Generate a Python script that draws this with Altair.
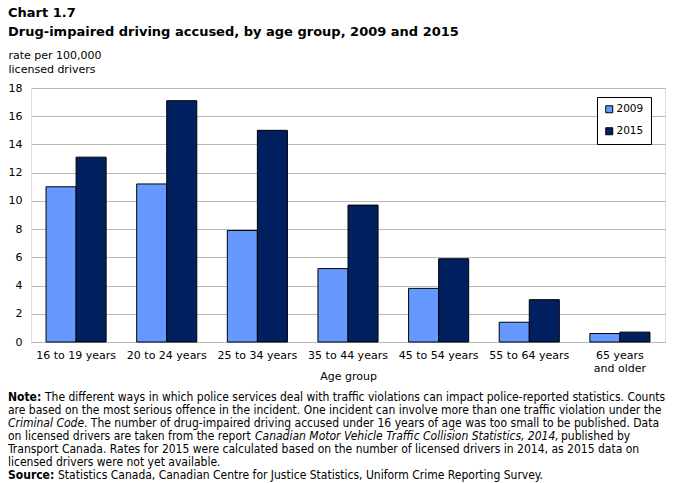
import altair as alt
import pandas as pd

age_groups = ["16 to 19 years", "20 to 24 years", "25 to 34 years", "35 to 44 years",
              "45 to 54 years", "55 to 64 years", "65 years and older"]
years = ["2009", "2015"]
rate_2009 = [11.0, 11.2, 7.9, 5.2, 3.8, 1.4, 0.6]
rate_2015 = [13.1, 17.1, 15.0, 9.7, 5.9, 3.0, 0.7]
colors = ["#6699FF", "#002060"]

rows = []
for i, g in enumerate(age_groups):
    rows.append({"age": g, "year": "2009", "rate": rate_2009[i]})
    rows.append({"age": g, "year": "2015", "rate": rate_2015[i]})
df = pd.DataFrame(rows)

FONT = "DejaVu Sans"
NOTE_FONT = "DejaVu Sans Condensed"

bars = alt.Chart(df).mark_bar(stroke="black", strokeWidth=1).encode(
    x=alt.X("age:N", sort=age_groups,
            scale=alt.Scale(paddingInner=0.337, paddingOuter=0.166),
            axis=alt.Axis(title="Age group", labelAngle=0, ticks=False,
                          labelFont=FONT, labelFontSize=11, labelColor="black",
                          labelPadding=7, domain=False,
                          labelExpr="datum.label == '65 years and older' ? ['65 years', 'and older'] : datum.label",
                          titleFont=FONT, titleFontSize=11, titleFontWeight="normal",
                          titleColor="black", titleY=34, titleBaseline="middle")),
    xOffset=alt.XOffset("year:N", sort=years),
    y=alt.Y("rate:Q", scale=alt.Scale(domain=[0, 18], nice=False),
            axis=alt.Axis(values=list(range(0, 19, 2)), ticks=False, domain=False,
                          labelFont=FONT, labelFontSize=11, labelColor="black",
                          labelPadding=9, gridColor="#b8b8b8", gridWidth=1,
                          title=["rate per 100,000", "licensed drivers"],
                          titleAngle=0, titleAlign="left", titleBaseline="middle",
                          titleX=-23, titleY=-33, titleFont=FONT, titleFontSize=11,
                          titleFontWeight="normal", titleColor="black",
                          titleLineHeight=14)),
    color=alt.Color("year:N", sort=years,
                    scale=alt.Scale(domain=years, range=colors),
                    legend=alt.Legend(title=None, orient="none", legendX=566, legendY=9,
                                      strokeColor="black", fillColor="white",
                                      padding=7, symbolType="square", symbolSize=49,
                                      symbolStrokeColor="black", symbolStrokeWidth=1,
                                      labelFont=FONT, labelFontSize=10.5, labelColor="black",
                                      labelOffset=2, rowPadding=10)),
)


def txt(text, x, y, size=12, weight="normal", style="normal", font=NOTE_FONT):
    return alt.Chart(alt.Data(values=[{}])).mark_text(
        text=text, align="left", baseline="middle", font=font, fontSize=size,
        fontWeight=weight, fontStyle=style, color="black"
    ).encode(x=alt.value(x), y=alt.value(y))


OX, OY = 31, 88
layers = [bars]
layers.append(txt("Chart 1.7", 8 - OX, 13 - OY, size=13, weight="bold", font=FONT))
layers.append(txt("Drug-impaired  driving accused, by age group, 2009 and 2015", 8 - OX, 32 - OY,
                  size=13, weight="bold", font=FONT))

note_y = [397, 410, 423, 436, 449, 462, 475]
segs = [
    ("Note:", 8, 0, "bold", "normal"),
    ("The different ways in which police services deal with traffic violations can impact police-reported statistics. Counts", 45, 0, "normal", "normal"),
    ("are based on the most serious offence in the incident. One incident can involve more than one traffic violation under the", 8, 1, "normal", "normal"),
    ("Criminal Code", 8, 2, "normal", "italic"),
    (". The number of drug-impaired driving accused under 16 years of age was too small to be published. Data", 84, 2, "normal", "normal"),
    ("on licensed drivers are taken from the report", 8, 3, "normal", "normal"),
    ("Canadian Motor Vehicle Traffic Collision Statistics, 2014,", 255, 3, "normal", "italic"),
    ("published by", 561, 3, "normal", "normal"),
    ("Transport Canada. Rates for 2015 were calculated based on the number of licensed drivers in 2014, as 2015 data on", 8, 4, "normal", "normal"),
    ("licensed drivers were not yet available.", 8, 5, "normal", "normal"),
    ("Source:", 8, 6, "bold", "normal"),
    ("Statistics Canada, Canadian Centre for Justice Statistics, Uniform Crime Reporting Survey.", 58, 6, "normal", "normal"),
]
for t, x, li, w, s in segs:
    layers.append(txt(t, x - OX, note_y[li] - OY, weight=w, style=s))

chart = alt.layer(*layers).properties(
    width=634, height=254,
    autosize=alt.AutoSizeParams(type="none"),
    padding={"left": OX, "top": OY, "right": 11, "bottom": 141},
).configure_view(stroke="black", strokeWidth=1).configure(background="white")

chart.save("out.html", embed_options={"renderer": "svg", "actions": False})
